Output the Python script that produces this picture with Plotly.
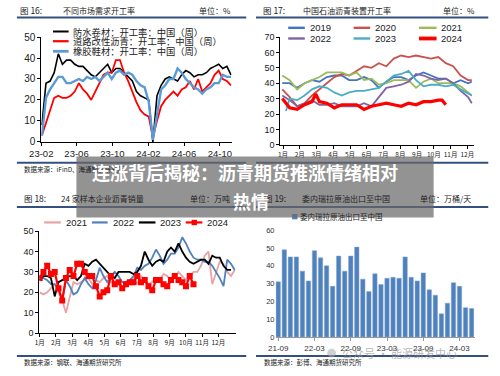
import plotly.graph_objects as go
import pandas as pd

# ---------------- Data ----------------
# Fig 16: 不同市场需求开工率 (bi-weekly readings, 2023-02 .. 2024-11)
dates16 = pd.date_range("2023-02-03", periods=47, freq="14D")
waterproof16 = [8,28,29,33,42,37,39,39,37,36,36,34,32,31,33,35,37,33,35,35,33,31,29,24,22,21,20,0,22,27,30,31,30,29,32,34,33,31,32,32,33,35,36,37,35,36,32]
road16 = [3,9,15,21,22,21,21,22,24,28,25,23,20,24,28,32,33,33,39,39,33,29,24,19,15,13,12,2,10,17,20,22,24,22,25,26,29,25,30,24,26,28,32,34,30,29,27]
rubber16 = [3,21,25,28,31,31,28,28,29,30,29,31,30,31,29,31,33,30,33,34,32,33,32,29,27,26,19,1,12,25,27,30,30,35,33,30,28,26,25,23,25,26,28,28,32,31,31]
names16 = ["防水卷材：开工率：中国（周）", "道路改性沥青：开工率：中国（周）", "橡胶鞋材：开工率：中国（周）"]
ticks16 = ["2023-02-01", "2023-06-01", "2023-10-01", "2024-02-01", "2024-06-01", "2024-10-01"]
ticklabels16 = ["23-02", "23-06", "23-10", "24-02", "24-06", "24-10"]

# Fig 17: 中国石油沥青装置开工率 (week of year)
weeks17 = [1,3,5,7,9,11,13,15,17,19,21,23,25,27,29,31,33,35,37,39,41,43,45,47,49,51,52]
y2019_17 = [40,40,37,40,42,41,44,45,45,42,42,44,42,37,41,44,44,42,45,47,45,43,43,40,42,40,41]
y2020_17 = [36,31,25,27,32,36,40,44,46,45,48,51,50,53,51,56,58,57,58,57,56,57,53,51,45,42,42]
y2021_17 = [45,42,36,40,42,44,47,47,47,45,47,42,43,39,40,42,42,42,37,41,43,40,40,40,38,34,32]
y2022_17 = [32,29,25,27,29,26,26,27,25,25,25,27,25,31,37,38,39,41,46,45,43,42,43,40,35,31,27]
weeks17_2023 = [2,3,5,7,9,11,13,15,17,19,21,23,25,27,29,31,33,35,37,39,41,43,45,47,49,51,52]
y2023_17 = [22,30,29,32,36,38,37,34,32,34,35,35,36,37,41,45,46,48,42,38,39,39,38,39,36,33,32]
weeks17_2024 = [1,3,5,7,9,10,11,13,15,17,19,21,23,25,27,29,31,33,35,37,39,41,43,44,45]
y2024_17 = [30,24,23,26,28,33,28,27,24,26,26,26,23,25,26,27,26,25,27,26,28,28,29,29,26]
months_cn = ["1月","2月","3月","4月","5月","6月","7月","8月","9月","10月","11月","12月"]

# Fig 18: 24 家样本企业沥青销量 (weekly)
y2021_18 = [20,19,20,22,24,20,16,10,18,25,24,25,26,27,24,26,25,27,28,25,24,25,22,23,25,27,24,28,26,24,25,27,26,29,28,25,27,30,28,26,28,30,30,33,38,40,24,30,35,34,30,28,31]
y2022_18 = [27,27,26,24,24,22,16,26,23,19,20,24,27,24,22,26,32,28,25,28,30,28,25,25,26,28,32,31,33,34,37,41,38,34,36,39,39,42,47,44,40,37,36,36,35,35,33,30,27,23,36,34,31]
y2023_18 = [26,28,28,27,18,25,26,27,28,28,26,28,34,33,35,36,34,32,30,28,27,30,30,30,30,29,30,33,40,36,33,35,36,35,40,42,40,44,40,37,35,34,35,36,36,34,38,37,37,33,31,31]
y2024_18 = [27,30,33,29,30,22,16,27,31,28,34,34,30,28,28,23,18,20,21,28,24,25,22,24,25,25,28,25,26,23,21,26,26,24,23,26,28,26,25,23,28,24]

# Fig 19: 委内瑞拉原油出口至中国 (万桶/天, monthly 2021-09 .. 2024-05)
months19 = [p.strftime("%y-%m") for p in pd.period_range("2021-09", "2024-05", freq="M")]
venez19 = [31,49,45,45,37,31.5,48.5,44.5,40,28.5,45.5,37,45.5,50.5,32.5,25.5,35.5,29.5,33,33.5,33,45,33.5,31.5,36,26.5,23.5,13,19,30.5,28.5,16.5,16]
ticks19 = ["21-09", "22-03", "22-09", "23-03", "23-09", "24-03"]

# ---------------- Figure ----------------
W, H = 500, 376
def PX(x): return x / W
def PY(y): return 1 - y / H

NUM = "Liberation Sans"
CJK = "Noto Sans CJK SC"

fig = go.Figure()

# Fig 16
for vals, col, wd in [(waterproof16, "#000000", 1.6), (road16, "#FF0000", 1.8), (rubber16, "#5B9BD5", 2.4)]:
    fig.add_trace(go.Scatter(x=dates16, y=vals, mode="lines", line=dict(color=col, width=wd),
                             xaxis="x", yaxis="y", showlegend=False))
# Fig 17
c17 = [("2019", "#4472C4", 1.8, weeks17, y2019_17), ("2020", "#C9514F", 1.8, weeks17, y2020_17),
       ("2021", "#9BBB59", 1.8, weeks17, y2021_17), ("2022", "#8064A2", 1.8, weeks17, y2022_17),
       ("2023", "#4BACC6", 1.8, weeks17_2023, y2023_17), ("2024", "#FF0000", 3.2, weeks17_2024, y2024_17)]
for nm, col, wd, xs, ys in c17:
    fig.add_trace(go.Scatter(x=xs, y=ys, mode="lines", line=dict(color=col, width=wd),
                             xaxis="x2", yaxis="y2", showlegend=False, name=nm))
# Fig 18
c18 = [("2021", "#E8A3A3", y2021_18), ("2022", "#4F81BD", y2022_18), ("2023", "#000000", y2023_18)]
for nm, col, ys in c18:
    fig.add_trace(go.Scatter(x=list(range(1, len(ys) + 1)), y=ys, mode="lines", line=dict(color=col, width=1.8),
                             xaxis="x3", yaxis="y3", showlegend=False, name=nm))
fig.add_trace(go.Scatter(x=list(range(1, len(y2024_18) + 1)), y=y2024_18, mode="lines+markers",
                         line=dict(color="#FF0000", width=2.2), marker=dict(symbol="square", size=6, color="#FF0000"),
                         xaxis="x3", yaxis="y3", showlegend=False, name="2024"))
# Fig 19
fig.add_trace(go.Bar(x=months19, y=venez19, marker=dict(color="#4F81BD", line=dict(color="#7FA3D4", width=0.5)),
                     width=0.72, xaxis="x4", yaxis="y4", showlegend=False))

axis_common = dict(showgrid=False, zeroline=False, showline=True, linecolor="#000000", linewidth=1,
                   ticks="outside", ticklen=3, tickcolor="#000000")
fig.update_layout(
    width=W, height=H, margin=dict(l=0, r=0, t=0, b=0),
    paper_bgcolor="white", plot_bgcolor="rgba(0,0,0,0)",
    xaxis=dict(axis_common, domain=[PX(30), PX(225)], anchor="y", type="date",
               range=["2023-02-01", "2024-11-10"], tickvals=ticks16, ticktext=ticklabels16,
               tickfont=dict(family=NUM, size=9.5, color="#222")),
    yaxis=dict(axis_common, domain=[PY(141), PY(33)], anchor="x", range=[0, 50], dtick=10,
               tickfont=dict(family=NUM, size=10, color="#222")),
    xaxis2=dict(axis_common, domain=[PX(275), PX(473)], anchor="y2", range=[0.5, 52.5],
                tickvals=[1.2 + 4.51 * i for i in range(12)], ticktext=months_cn,
                tickfont=dict(family=CJK, size=6.5, color="#222")),
    yaxis2=dict(axis_common, domain=[PY(144), PY(33)], anchor="x2", range=[0, 70], dtick=10,
                tickfont=dict(family=NUM, size=9, color="#222")),
    xaxis3=dict(axis_common, domain=[PX(28), PX(229)], anchor="y3", range=[0.9, 53.2],
                tickvals=[1 + 4.33 * i for i in range(12)], ticktext=months_cn,
                tickfont=dict(family=CJK, size=6.5, color="#222")),
    yaxis3=dict(axis_common, domain=[PY(338), PY(233)], anchor="x3", range=[0, 50], dtick=10,
                tickfont=dict(family=NUM, size=9, color="#222")),
    xaxis4=dict(domain=[PX(270), PX(474)], anchor="y4", type="category", range=[-0.45, 32.5],
                tickvals=ticks19, ticktext=ticks19, showgrid=False, showline=True, linecolor="#999",
                ticks="outside", ticklen=3, tickcolor="#999",
                tickfont=dict(family=NUM, size=8, color="#333")),
    yaxis4=dict(domain=[PY(342), PY(232)], anchor="x4", range=[0, 60], dtick=10, showgrid=False,
                zeroline=False, showline=False, tickfont=dict(family=NUM, size=7.5, color="#333")),
)

shapes = []
annots = []
def hline(x0, x1, y, color, width):
    shapes.append(dict(type="line", xref="paper", yref="paper", x0=PX(x0), x1=PX(x1), y0=PY(y), y1=PY(y),
                       line=dict(color=color, width=width)))
def text(x, y, s, size, color="#222", family=CJK, anchor="left", bold=False):
    if bold:
        s = "<b>" + s + "</b>"
    annots.append(dict(xref="paper", yref="paper", x=PX(x), y=PY(y), text=s, showarrow=False,
                       xanchor=anchor, yanchor="middle", font=dict(family=family, size=size, color=color)))

BLUE = "#34507F"
# header / footer rules
for y in (13, 162.5, 208, 361.5):
    hline(5, 240, y, BLUE, 2)
    hline(250, 488, y, BLUE, 2)

# headers
text(6, 5.5, "图 16:", 8.5)
text(50, 5.5, "不同市场需求开工率", 8)
text(190, 5.5, "单位：%", 8)
text(255, 5.5, "图 17:", 8.5)
text(296, 5.5, "中国石油沥青装置开工率", 8)
text(440, 5.5, "单位：%", 8)
text(10, 199, "图 18:", 8.5)
text(48, 199, "24 家样本企业沥青销量", 8)
text(180, 199, "单位：万吨", 8)
text(256, 199, "图 19:", 8.5)
text(295, 199, "委内瑞拉原油出口至中国", 8)
text(416, 199, "单位：万桶/天", 8)
# sources
text(10, 169, "数据来源：iFinD、海通期货研究所", 6.5)
text(10, 368, "数据来源：钢联、海通期货研究所", 6.5)
text(256, 368, "数据来源：彭博、海通期货研究所", 6.5)

# legend fig 16
for (nm, col, wd), y in zip([(names16[0], "#000000", 1.6), (names16[1], "#FF0000", 1.8), (names16[2], "#5B9BD5", 2.4)],
                            (27.3, 37.3, 47.7)):
    hline(42, 58, y, col, wd + 0.4)
    text(60.5, y, nm, 9.3)
# legend fig 17
cols17 = [(283, 300, 303), (350, 367, 370), (417, 435, 438)]
for i, (nm, col, wd, _, _) in enumerate(c17):
    x0, x1, xt = cols17[i % 3]
    y = 23.5 if i < 3 else 34.5
    hline(x0, x1, y, col, wd + 0.6)
    text(xt, y, nm, 9.5, family=NUM)
# legend fig 18
leg18 = [("2021", "#E8A3A3"), ("2022", "#4F81BD"), ("2023", "#000000"), ("2024", "#FF0000")]
for (nm, col), (x0, x1, xt) in zip(leg18, [(33, 50, 53), (82, 98, 101), (130, 147, 150), (178, 195, 198)]):
    hline(x0, x1, 224, col, 2.2)
    text(xt, 224, nm, 9.5, family=NUM)
shapes.append(dict(type="rect", xref="paper", yref="paper", x0=PX(184), x1=PX(189.5), y0=PY(226.8), y1=PY(221.3),
                   fillcolor="#FF0000", line=dict(width=0)))
# legend fig 19
shapes.append(dict(type="rect", xref="paper", yref="paper", x0=PX(287), x1=PX(292.5), y0=PY(220.8), y1=PY(215.3),
                   fillcolor="#4F81BD", line=dict(width=0)))
text(293, 218, "委内瑞拉原油出口至中国", 7.5)

# watermark
text(336, 358.5, "公众号 · 能源研发中心", 11, color="rgba(150,150,150,0.7)")
shapes.append(dict(type="circle", xref="paper", yref="paper", x0=PX(323), x1=PX(332), y0=PY(363), y1=PY(354),
                   fillcolor="rgba(170,170,170,0.55)", line=dict(width=0)))

# overlay banner
shapes.append(dict(type="rect", xref="paper", yref="paper", x0=PX(66), x1=PX(432), y0=PY(219), y1=PY(156),
                   fillcolor="rgba(105,105,105,0.72)", line=dict(width=0), layer="above"))
text(239, 172, "连涨背后揭秘：沥青期货推涨情绪相对", 18, color="white", anchor="center", bold=True)
text(245, 201.5, "热情", 18, color="white", anchor="center", bold=True)

fig.update_layout(shapes=shapes, annotations=annots)
fig.write_html("out.html", config={"displayModeBar": False},
               post_script="document.body.style.margin='0';")
